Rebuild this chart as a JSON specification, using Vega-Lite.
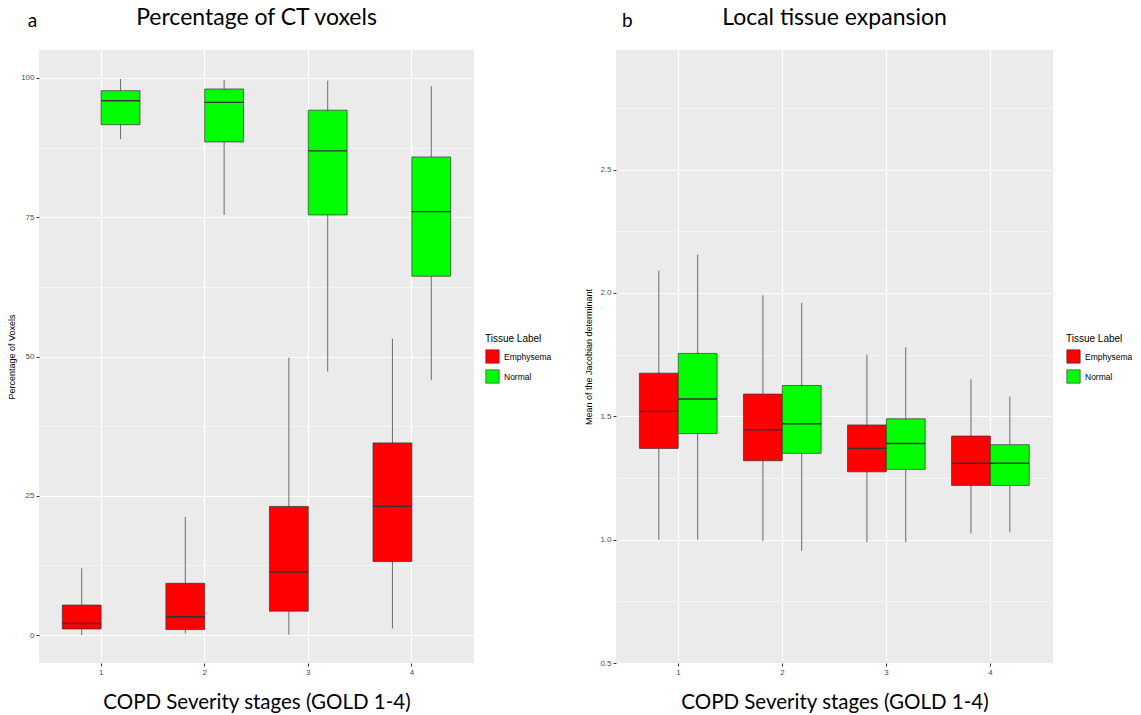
{
  "$schema": "https://vega.github.io/schema/vega-lite/v6.json",
  "background": "white",
  "padding": {"left": 7, "top": 7, "right": 0, "bottom": 0},
  "autosize": {"type": "pad"},
  "spacing": 32,
  "config": {
    "view": {"stroke": null, "fill": "#EBEBEB"},
    "axis": {
      "domain": false,
      "tickColor": "#333333",
      "tickSize": 3,
      "labelColor": "#4D4D4D",
      "labelFont": "Liberation Sans",
      "labelFontSize": 8,
      "labelPadding": 2,
      "gridColor": "white",
      "titleFont": "Liberation Sans",
      "titleFontWeight": "normal",
      "titleColor": "black"
    },
    "legend": {
      "titleFont": "Liberation Sans",
      "titleFontWeight": "normal",
      "titleFontSize": 10,
      "titleColor": "black",
      "labelFont": "Liberation Sans",
      "labelFontSize": 8.5,
      "labelColor": "black",
      "symbolType": "square",
      "symbolSize": 180,
      "symbolStrokeColor": "#333333",
      "symbolStrokeWidth": 0.6,
      "rowPadding": 3,
      "titlePadding": 5
    },
    "title": {"font": "Lato", "fontSize": 23, "fontWeight": "normal", "color": "black"}
  },
  "datasets": {
    "pct": [
      {"stage": "1", "label": "Emphysema", "lower": 0.0, "q1": 1.1, "median": 2.1, "q3": 5.4, "upper": 12.0},
      {"stage": "1", "label": "Normal", "lower": 89.0, "q1": 91.6, "median": 95.9, "q3": 97.7, "upper": 99.8},
      {"stage": "2", "label": "Emphysema", "lower": 0.3, "q1": 1.0, "median": 3.3, "q3": 9.3, "upper": 21.2},
      {"stage": "2", "label": "Normal", "lower": 75.4, "q1": 88.5, "median": 95.6, "q3": 98.0, "upper": 99.6},
      {"stage": "3", "label": "Emphysema", "lower": 0.1, "q1": 4.3, "median": 11.3, "q3": 23.1, "upper": 49.8},
      {"stage": "3", "label": "Normal", "lower": 47.3, "q1": 75.4, "median": 86.9, "q3": 94.2, "upper": 99.5},
      {"stage": "4", "label": "Emphysema", "lower": 1.2, "q1": 13.2, "median": 23.1, "q3": 34.5, "upper": 53.2},
      {"stage": "4", "label": "Normal", "lower": 45.8, "q1": 64.4, "median": 76.0, "q3": 85.8, "upper": 98.5}
    ],
    "jac": [
      {"stage": "1", "label": "Emphysema", "lower": 1.0, "q1": 1.37, "median": 1.52, "q3": 1.675, "upper": 2.09},
      {"stage": "1", "label": "Normal", "lower": 1.0, "q1": 1.43, "median": 1.57, "q3": 1.755, "upper": 2.155},
      {"stage": "2", "label": "Emphysema", "lower": 0.995, "q1": 1.32, "median": 1.445, "q3": 1.59, "upper": 1.99},
      {"stage": "2", "label": "Normal", "lower": 0.955, "q1": 1.35, "median": 1.47, "q3": 1.625, "upper": 1.96},
      {"stage": "3", "label": "Emphysema", "lower": 0.99, "q1": 1.275, "median": 1.37, "q3": 1.465, "upper": 1.75},
      {"stage": "3", "label": "Normal", "lower": 0.99, "q1": 1.285, "median": 1.39, "q3": 1.49, "upper": 1.78},
      {"stage": "4", "label": "Emphysema", "lower": 1.025, "q1": 1.22, "median": 1.31, "q3": 1.42, "upper": 1.65},
      {"stage": "4", "label": "Normal", "lower": 1.03, "q1": 1.22, "median": 1.31, "q3": 1.385, "upper": 1.58}
    ]
  },
  "resolve": {"scale": {"fill": "independent"}, "legend": {"fill": "independent"}},
  "hconcat": [
    {
      "title": {"text": "a", "anchor": "start", "dx": 20, "dy": 24, "offset": 0, "fontSize": 19},
      "resolve": {"scale": {"fill": "independent"}, "legend": {"fill": "independent"}},
      "vconcat": [
        {
          "title": {"text": "Percentage of CT voxels", "anchor": "middle", "frame": "group", "offset": 20},
          "width": 435,
          "height": 613,
          "data": {"name": "pct"},
          "encoding": {
            "x": {
              "field": "stage", "type": "nominal",
              "scale": {"paddingInner": 0.25, "paddingOuter": 0.225},
              "axis": {"labelAngle": 0, "bandPosition": 0.5, "grid": true, "gridWidth": 1.2,
                       "title": "COPD Severity stages (GOLD 1-4)", "titleFont": "Lato", "titleFontSize": 20.5, "titlePadding": 16}
            },
            "xOffset": {"field": "label", "type": "nominal", "scale": {"paddingInner": 0, "paddingOuter": 0}}
          },
          "layer": [
            {
              "mark": {"type": "rule", "color": "#333333", "strokeWidth": 0.7},
              "encoding": {
                "y": {
                  "field": "lower", "type": "quantitative",
                  "scale": {"domain": [-5, 105], "nice": false, "zero": false},
                  "axis": {
                    "values": [0, 12.5, 25, 37.5, 50, 62.5, 75, 87.5, 100],
                    "labelExpr": "datum.value % 25 === 0 ? datum.label : ''",
                    "tickOpacity": {"condition": {"test": "datum.value % 25 === 0", "value": 1}, "value": 0},
                    "gridWidth": {"condition": {"test": "datum.value % 25 === 0", "value": 1.2}, "value": 0.5},
                    "title": "Percentage of Voxels", "titleFontSize": 9, "titlePadding": 4
                  }
                },
                "y2": {"field": "upper"}
              }
            },
            {
              "mark": {"type": "bar", "stroke": "#333333", "strokeWidth": 0.7},
              "encoding": {
                "y": {"field": "q1", "type": "quantitative"},
                "y2": {"field": "q3"},
                "fill": {
                  "field": "label", "type": "nominal",
                  "scale": {"domain": ["Emphysema", "Normal"], "range": ["#FF0000", "#00FF00"]},
                  "legend": {"title": "Tissue Label", "orient": "none", "legendX": 446, "legendY": 284}
                }
              }
            },
            {
              "mark": {"type": "bar", "fill": null, "stroke": "#333333", "strokeWidth": 1.4},
              "encoding": {
                "y": {"field": "median", "type": "quantitative"},
                "y2": {"field": "median"}
              }
            }
          ]
        }
      ]
    },
    {
      "title": {"text": "b", "anchor": "start", "dx": 37, "dy": 24, "offset": 0, "fontSize": 19},
      "resolve": {"scale": {"fill": "independent"}, "legend": {"fill": "independent"}},
      "vconcat": [
        {
          "title": {"text": "Local tissue expansion", "anchor": "middle", "frame": "group", "offset": 20},
          "width": 437,
          "height": 613,
          "data": {"name": "jac"},
          "encoding": {
            "x": {
              "field": "stage", "type": "nominal",
              "scale": {"paddingInner": 0.25, "paddingOuter": 0.225},
              "axis": {"labelAngle": 0, "bandPosition": 0.5, "grid": true, "gridWidth": 1.2,
                       "title": "COPD Severity stages (GOLD 1-4)", "titleFont": "Lato", "titleFontSize": 20.5, "titlePadding": 16}
            },
            "xOffset": {"field": "label", "type": "nominal", "scale": {"paddingInner": 0, "paddingOuter": 0}}
          },
          "layer": [
            {
              "mark": {"type": "rule", "color": "#333333", "strokeWidth": 0.7},
              "encoding": {
                "y": {
                  "field": "lower", "type": "quantitative",
                  "scale": {"domain": [0.5, 2.985], "nice": false, "zero": false},
                  "axis": {
                    "values": [0.5, 0.75, 1.0, 1.25, 1.5, 1.75, 2.0, 2.25, 2.5, 2.75],
                    "labelExpr": "(datum.value * 2) % 1 === 0 ? format(datum.value, '.1f') : ''",
                    "tickOpacity": {"condition": {"test": "(datum.value * 2) % 1 === 0", "value": 1}, "value": 0},
                    "gridWidth": {"condition": {"test": "(datum.value * 2) % 1 === 0", "value": 1.2}, "value": 0.5},
                    "title": "Mean of the Jacobian determinant", "titleFontSize": 9, "titlePadding": 6
                  }
                },
                "y2": {"field": "upper"}
              }
            },
            {
              "mark": {"type": "bar", "stroke": "#333333", "strokeWidth": 0.7},
              "encoding": {
                "y": {"field": "q1", "type": "quantitative"},
                "y2": {"field": "q3"},
                "fill": {
                  "field": "label", "type": "nominal",
                  "scale": {"domain": ["Emphysema", "Normal"], "range": ["#FF0000", "#00FF00"]},
                  "legend": {"title": "Tissue Label", "orient": "none", "legendX": 450, "legendY": 284}
                }
              }
            },
            {
              "mark": {"type": "bar", "fill": null, "stroke": "#333333", "strokeWidth": 1.4},
              "encoding": {
                "y": {"field": "median", "type": "quantitative"},
                "y2": {"field": "median"}
              }
            }
          ]
        }
      ]
    }
  ]
}
